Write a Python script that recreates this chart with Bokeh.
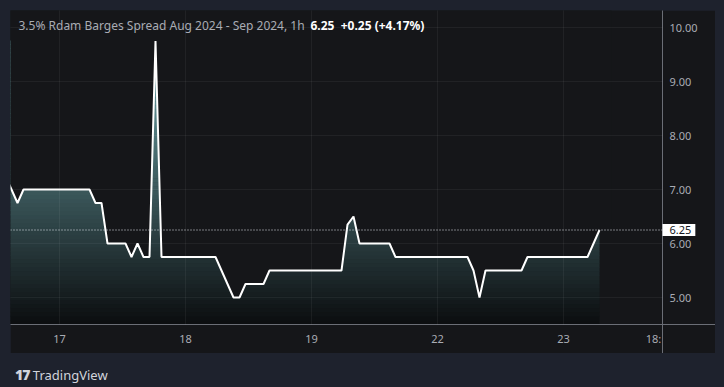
import numpy as np
from bokeh.plotting import figure
from bokeh.models import (FixedTicker, Span, Label, Div, Column,
                          PrintfTickFormatter, GlobalInlineStyleSheet)
from bokeh.embed import file_html
from bokeh.resources import INLINE

# ---------------- data ----------------
bar_index = list(range(-9, 91))          # hourly bars; bar 0 = first bar of the 17th
price = [7.25, 7.0, 6.75,
         7.0, 7.0, 7.0, 7.0, 7.0, 7.0, 7.0, 7.0, 7.0, 7.0, 7.0, 7.0,
         6.75, 6.75,
         6.0, 6.0, 6.0, 6.0,
         5.75, 6.0, 5.75, 5.75,
         9.75,
         5.75, 5.75, 5.75, 5.75, 5.75, 5.75, 5.75, 5.75, 5.75, 5.75,
         5.5, 5.25, 5.0, 5.0,
         5.25, 5.25, 5.25, 5.25,
         5.5, 5.5, 5.5, 5.5, 5.5, 5.5, 5.5, 5.5, 5.5, 5.5, 5.5, 5.5, 5.5,
         6.35, 6.5,
         6.0, 6.0, 6.0, 6.0, 6.0, 6.0,
         5.75, 5.75, 5.75, 5.75, 5.75, 5.75, 5.75, 5.75, 5.75, 5.75, 5.75, 5.75, 5.75,
         5.5, 5.0,
         5.5, 5.5, 5.5, 5.5, 5.5, 5.5, 5.5,
         5.75, 5.75, 5.75, 5.75, 5.75, 5.75, 5.75, 5.75, 5.75, 5.75, 5.75,
         6.0, 6.25]
day_ticks = [0, 21, 42, 63, 84]
day_labels = ["17", "18", "19", "22", "23"]
future_tick = 99
future_label = "18:"
price_ticks = [5, 6, 7, 8, 9, 10]
title_text = "3.5% Rdam Barges Spread Aug 2024 - Sep 2024, 1h"
change_text = "6.25\u00a0\u00a0+0.25 (+4.17%)"

# ---------------- style ----------------
PAGE_BG = "#1e222d"
PANE_BG = "#151619"
TEXT = "#a9acb4"
SCALE_LINE = "#6b6e76"
FONT = "Noto Sans"

x_lo, x_hi = -8.1667, 100.5
y_lo, y_hi = 4.5, 10.315
FRAME_H = 314          # px, pane height
TAG_W = 33             # px, approx. width of the last-price tag panel

p = figure(width=705, height=343, x_range=(x_lo, x_hi), y_range=(y_lo, y_hi),
           output_backend="svg", toolbar_location=None, y_axis_location="right",
           min_border_left=0, min_border_right=53, min_border_top=0, min_border_bottom=29,
           background_fill_color=PANE_BG, border_fill_color=PANE_BG,
           outline_line_color=None)

# gradient area fill (bands + mask above the line)
n = 70
edges = np.linspace(y_lo, max(price), n + 1)
top_rgb = np.array([112, 170, 175])
bot_rgb = np.array([11, 13, 15])
colors = []
for i in range(n):
    t = (i + 0.5) / n
    c = bot_rgb + (top_rgb - bot_rgb) * t
    colors.append("#%02x%02x%02x" % tuple(int(round(v)) for v in c))
p.quad(left=bar_index[0], right=bar_index[-1], bottom=edges[:-1], top=edges[1:] + 0.01,
       fill_color=colors, line_color=None)
mask_top = y_hi + 1
p.patch(x=bar_index + [bar_index[-1] + 2, bar_index[-1] + 2, bar_index[0] - 2, bar_index[0] - 2],
        y=price + [price[-1], mask_top, mask_top, price[0]],
        fill_color=PANE_BG, line_color=None)

p.line(bar_index, price, line_color="white", line_width=2)

# last price dotted line
p.add_layout(Span(location=price[-1], dimension="width", line_color="#e0e3eb",
                  line_width=1, line_dash="1 2"))

# grids
p.xgrid.ticker = FixedTicker(ticks=day_ticks)
p.ygrid.ticker = FixedTicker(ticks=price_ticks)
for g in (p.xgrid[0], p.ygrid[0]):
    g.grid_line_color = "white"
    g.grid_line_alpha = 0.055
    g.level = "overlay"

# x axis (time scale); its minor tick at the pane edge draws the scale separator
xa = p.xaxis[0]
xa.ticker = FixedTicker(ticks=day_ticks + [future_tick], minor_ticks=[x_hi - 0.005])
xa.major_label_overrides = {**{t: l for t, l in zip(day_ticks, day_labels)}, future_tick: future_label}
xa.axis_line_color = SCALE_LINE
xa.major_tick_line_color = None
xa.major_tick_out = 0
xa.major_tick_in = 0
xa.minor_tick_line_color = SCALE_LINE
xa.minor_tick_out = 29
xa.minor_tick_in = FRAME_H
xa.major_label_standoff = 6 - 29
xa.major_label_text_color = TEXT
xa.major_label_text_font = FONT
xa.major_label_text_font_size = "11px"

# last price tag (in the right side panel, next to the pane, so it is not clipped)
tag = Label(x=x_hi, y=price[-1], x_units="data", y_units="data",
            text="%.2f" % price[-1],
            text_align="left", text_baseline="middle",
            text_font=FONT, text_font_size="11px", text_color="#131722",
            background_fill_color="#ffffff", background_fill_alpha=1.0,
            padding=dict(left=7, right=4, top=2, bottom=2))
p.add_layout(tag, "right")

# y axis (price scale, right) placed after the tag panel
ya = p.yaxis[0]
p.right = [tag, ya]
ya.ticker = FixedTicker(ticks=price_ticks, minor_ticks=[y_lo + 0.0005])
ya.formatter = PrintfTickFormatter(format="%.2f")
ya.axis_line_color = None
ya.major_tick_line_color = None
ya.major_tick_out = 0
ya.major_tick_in = 0
ya.minor_tick_line_color = SCALE_LINE
ya.minor_tick_out = 53 - TAG_W
ya.minor_tick_in = TAG_W
ya.major_label_standoff = 7 - TAG_W - (53 - TAG_W)
ya.major_label_text_color = TEXT
ya.major_label_text_font = FONT
ya.major_label_text_font_size = "11px"

# legend / title inside pane
p.add_layout(Label(x=8, y=299, x_units="screen", y_units="screen", text=title_text,
                   text_font=FONT, text_font_size="12px", text_color=TEXT,
                   text_baseline="middle"))
p.add_layout(Label(x=300, y=299, x_units="screen", y_units="screen", text=change_text,
                   text_font=FONT, text_font_size="12px", text_color="#ffffff",
                   text_font_style="bold", text_baseline="middle"))

logo = Div(text=('<div style="padding:9px 0 0 0;font-family:\'Noto Sans\';color:#d1d4dc;'
                 'font-size:13px;line-height:16px;white-space:nowrap;">'
                 '<span style="font-weight:900;font-size:14px;letter-spacing:-1px;">17</span>'
                 '&nbsp;TradingView</div>'),
           width=705, height=30, styles={"background-color": PAGE_BG})

layout = Column(p, logo, spacing=0,
                stylesheets=[GlobalInlineStyleSheet(
                    css="html, body { background-color: #1e222d !important; } "
                        "body { padding: 10px 0 0 10px !important; }")])

open("out.html", "w").write(file_html(layout, INLINE))
